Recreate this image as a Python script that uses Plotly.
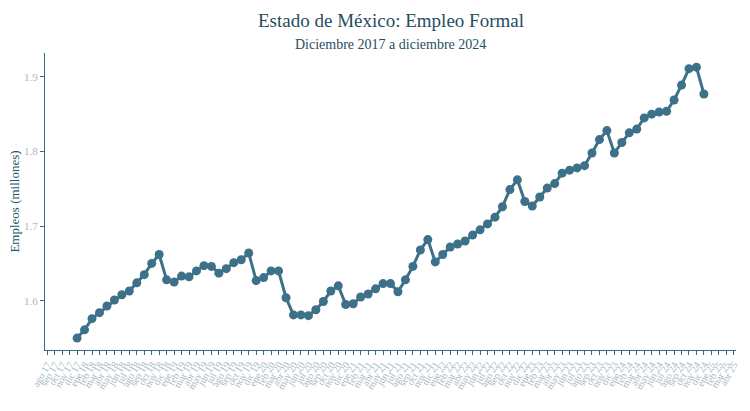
import plotly.graph_objects as go

meses = ["ene", "feb", "mar", "abr", "may", "jun", "jul", "ago", "sep", "oct", "nov", "dic"]

# Axis tick labels: ago 17 .. abr 25
tick_labels = []
for y in range(17, 26):
    for i, m in enumerate(meses):
        if (y == 17 and i < 7) or (y == 25 and i > 3):
            continue
        tick_labels.append(f"{m} {y}")

# Data: dic 2017 .. dic 2024 (millions)
empleo = [
    1.550,
    1.561, 1.576, 1.584, 1.593, 1.601, 1.608, 1.613, 1.624, 1.635, 1.650, 1.662, 1.628,
    1.625, 1.633, 1.632, 1.640, 1.647, 1.646, 1.637, 1.643, 1.651, 1.655, 1.664, 1.627,
    1.631, 1.640, 1.640, 1.604, 1.581, 1.581, 1.580, 1.588, 1.599, 1.613, 1.620, 1.595,
    1.596, 1.605, 1.609, 1.616, 1.623, 1.623, 1.612, 1.628, 1.646, 1.668, 1.682, 1.652,
    1.662, 1.672, 1.676, 1.680, 1.688, 1.695, 1.703, 1.712, 1.726, 1.749, 1.762, 1.733,
    1.727, 1.739, 1.751, 1.757, 1.771, 1.775, 1.778, 1.781, 1.798, 1.816, 1.828, 1.798,
    1.812, 1.825, 1.830, 1.845, 1.850, 1.853, 1.854, 1.869, 1.889, 1.911, 1.913, 1.877,
]

start_offset = tick_labels.index("dic 17")
x_idx = [start_offset + i for i in range(len(empleo))]
data_labels = tick_labels[start_offset:start_offset + len(empleo)]

line_color = "#3d7189"
axis_color = "#3b6b80"
tick_color = "#a9b9c4"
font_family = "Liberation Serif"

fig = go.Figure()
fig.add_trace(go.Scatter(
    x=x_idx, y=empleo, mode="lines+markers",
    line=dict(color=line_color, width=3),
    marker=dict(color=line_color, size=9),
    text=data_labels,
    hovertemplate="%{text}: %{y:.3f}<extra></extra>",
))

fig.add_annotation(
    text="Estado de México: Empleo Formal", xref="paper", yref="paper",
    x=0.5, y=1.111, xanchor="center", yanchor="middle", showarrow=False,
    font=dict(family=font_family, size=19, color="#1f4e5f"),
)
fig.add_annotation(
    text="Diciembre 2017 a diciembre 2024", xref="paper", yref="paper",
    x=0.5, y=1.030, xanchor="center", yanchor="middle", showarrow=False,
    font=dict(family=font_family, size=14, color="#1f4e5f"),
)

fig.update_layout(
    width=750, height=411,
    margin=dict(l=45, r=10, t=53, b=61),
    paper_bgcolor="white", plot_bgcolor="white",
    showlegend=False,
    font=dict(family=font_family, color=axis_color),
    xaxis=dict(
        range=[-0.3, len(tick_labels) - 1 + 0.3],
        tickmode="array",
        tickvals=list(range(len(tick_labels))),
        ticktext=tick_labels,
        tickangle=-60,
        tickfont=dict(family=font_family, size=10, color=tick_color),
        ticks="outside", ticklen=4, tickcolor=axis_color,
        showline=True, linecolor=axis_color, linewidth=1,
        showgrid=False, zeroline=False,
    ),
    yaxis=dict(
        range=[1.534, 1.932],
        tickvals=[1.6, 1.7, 1.8, 1.9],
        ticktext=["1.6", "1.7", "1.8", "1.9"],
        tickfont=dict(family=font_family, size=11, color=tick_color),
        ticks="outside", ticklen=4, tickcolor=axis_color,
        showline=True, linecolor=axis_color, linewidth=1,
        showgrid=False, zeroline=False,
        title=dict(text="Empleos (millones)", font=dict(family=font_family, size=13, color="#24566c"), standoff=1),
    ),
)

fig.write_html("out.html")
